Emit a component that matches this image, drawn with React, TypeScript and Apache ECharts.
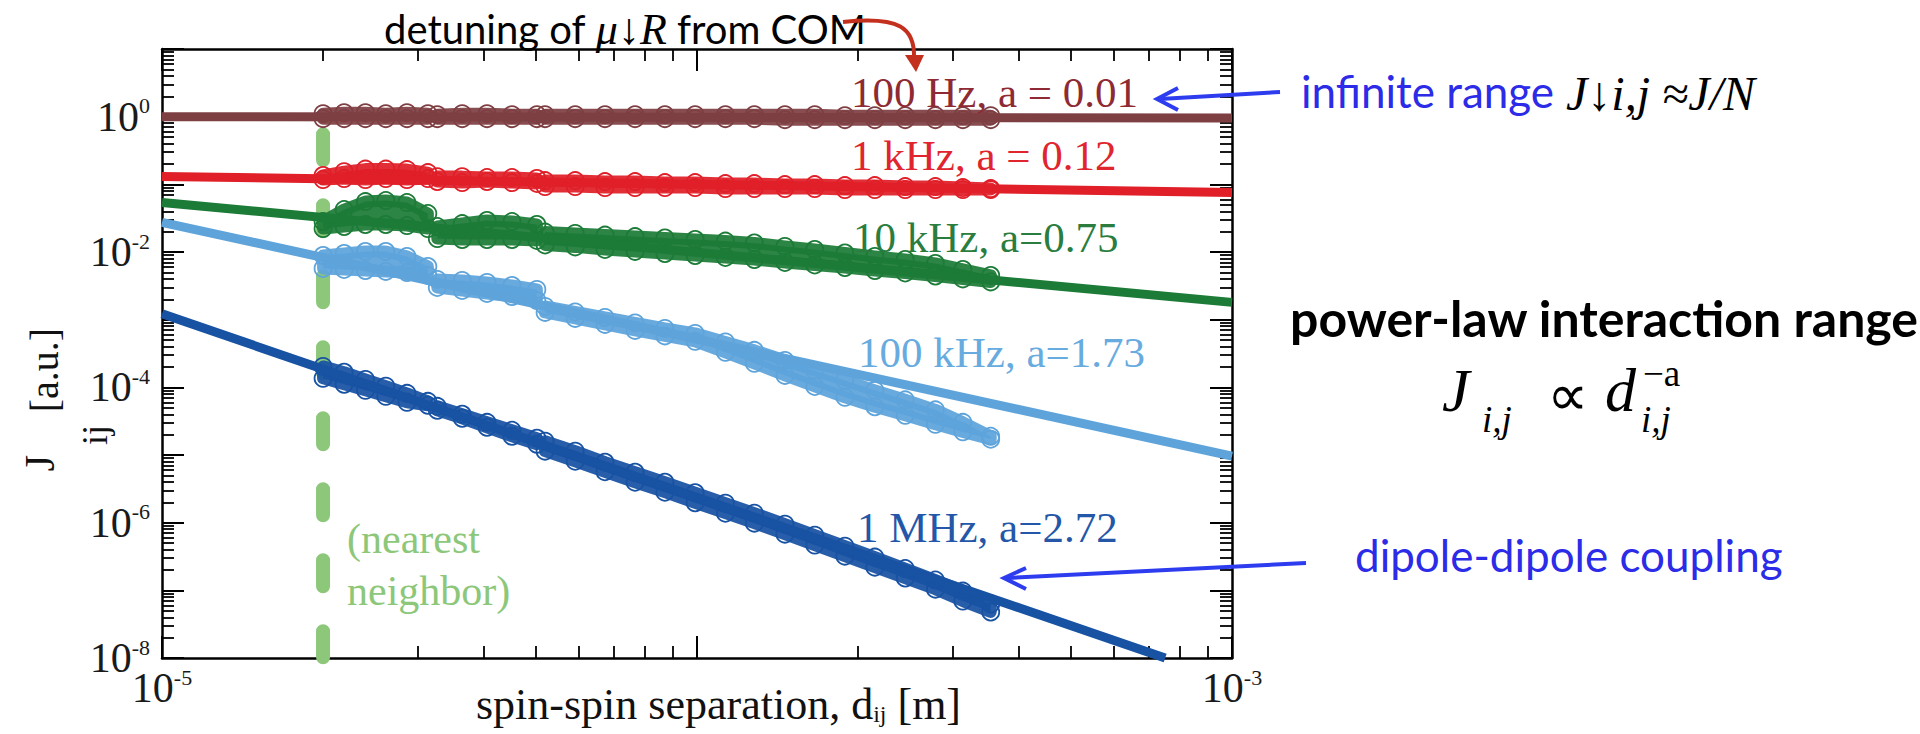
import React, { useEffect, useRef } from 'react';
import * as echarts from 'echarts';

const SERIF = '"Liberation Serif", "Times New Roman", serif';
const SANS = 'Lato, "Open Sans", sans-serif';

// axis ranges and labelled decades
const xRange = [1e-5, 1e-3];
const yRange = [1e-8, 10];
const xLabelExps = [-5, -3];
const yLabelExps = [-8, -6, -4, -2, 0];

// spin-spin separations (m) at which the coupling clouds are sampled
const sepD = [
  2.0e-5, 2.19e-5, 2.4e-5, 2.62e-5, 2.87e-5, 3.14e-5,
  3.27e-5, 3.64e-5, 4.05e-5, 4.51e-5, 5.02e-5,
  5.2e-5, 5.92e-5, 6.73e-5, 7.66e-5, 8.71e-5, 9.92e-5, 1.13e-4, 1.28e-4,
  1.46e-4, 1.66e-4, 1.89e-4, 2.15e-4, 2.45e-4, 2.79e-4, 3.14e-4, 3.54e-4,
];
const clusters = [[0, 5], [6, 10], [11, 26]];

// upper / lower edge of each cloud of J_ij points
const brownHi = [1.107, 1.146, 1.146, 1.107, 1.146, 1.107, 1.07, 1.107, 1.107, 1.07, 1.07,
  1.07, 1.07, 1.07, 1.07, 1.07, 1.07, 1.07, 1.07, 1.07, 1.07, 1.035, 1.035, 1.035, 1.035, 1.035, 1.035];
const brownLo = [0.934, 0.934, 0.934, 0.934, 0.934, 0.934, 0.934, 0.934, 0.934, 0.934, 0.934,
  0.934, 0.934, 0.934, 0.934, 0.934, 0.934, 0.934, 0.934, 0.903, 0.903, 0.903, 0.903, 0.903, 0.903, 0.903, 0.903];

const redHi = [0.135, 0.154, 0.168, 0.168, 0.165, 0.149, 0.13, 0.13, 0.126, 0.126, 0.122,
  0.1136, 0.1136, 0.1098, 0.1098, 0.1061, 0.1061, 0.1026, 0.1026, 0.0992, 0.0992, 0.0959, 0.0959, 0.0927, 0.0927, 0.0895, 0.0866];
const redLo = [0.1175, 0.1216, 0.1175, 0.1216, 0.1175, 0.1216, 0.11, 0.106, 0.11, 0.106, 0.103,
  0.0927, 0.0927, 0.0895, 0.0895, 0.0895, 0.0895, 0.0866, 0.0866, 0.0866, 0.0866, 0.0837, 0.0837, 0.0837, 0.0837, 0.0837, 0.0837];

const greenHi = [0.0282, 0.0424, 0.0556, 0.0576, 0.0538, 0.037, 0.0238, 0.0263, 0.0292, 0.0282, 0.0255,
  0.0197, 0.0188, 0.0178, 0.0169, 0.0161, 0.0153, 0.0145, 0.0136, 0.0121, 0.0109, 0.00967, 0.00859, 0.00775, 0.00677, 0.00552, 0.0045];
const greenLo = [0.0222, 0.0238, 0.0255, 0.0255, 0.0246, 0.0222, 0.0158, 0.0153, 0.0153, 0.0153, 0.0148,
  0.0127, 0.0119, 0.0109, 0.0102, 0.0095, 0.00888, 0.0083, 0.00775, 0.007, 0.00643, 0.0059, 0.00533, 0.0049, 0.00442, 0.004, 0.00361];

const lightHi = [0.00888, 0.0095, 0.01017, 0.01017, 0.00859, 0.00611, 0.00393, 0.0038, 0.00355, 0.0032, 0.0028,
  0.001569, 0.001301, 0.00108, 0.000896, 0.000743, 0.000627, 0.000469, 0.000352, 0.00025, 0.000178, 0.000127, 9.03e-5, 6.54e-5, 4.65e-5, 3.04e-5, 1.89e-5];
const lightLo = [0.00571, 0.00552, 0.00533, 0.00516, 0.00498, 0.0045, 0.00299, 0.0027, 0.00244, 0.0022, 0.00192,
  0.001279, 0.001043, 0.000851, 0.000694, 0.000576, 0.000478, 0.000329, 0.000226, 0.00015, 0.000103, 7.12e-5, 5.16e-5, 3.86e-5, 2.84e-5, 2.2e-5, 1.71e-5];

const darkHi = [2.04e-4, 1.67e-4, 1.31e-4, 1.04e-4, 8.15e-5, 6.21e-5, 5.24e-5, 4.0e-5, 3.04e-5, 2.32e-5, 1.77e-5,
  1.6e-5, 1.14e-5, 7.82e-6, 5.56e-6, 3.96e-6, 2.77e-6, 1.94e-6, 1.38e-6, 9.5e-7, 6.54e-7, 4.5e-7, 3.1e-7, 2.1e-7, 1.42e-7, 9.75e-8, 6.27e-8];
const darkLo = [1.36e-4, 1.11e-4, 9.03e-5, 7.37e-5, 6.01e-5, 5.43e-5, 4.58e-5, 3.49e-5, 2.57e-5, 1.89e-5, 1.44e-5,
  1.14e-5, 8.09e-6, 5.66e-6, 3.96e-6, 2.82e-6, 1.97e-6, 1.38e-6, 9.83e-7, 6.77e-7, 4.66e-7, 3.2e-7, 2.2e-7, 1.52e-7, 1.04e-7, 6.94e-8, 4.78e-8];

// power-law fits J ∝ d^-a (end points)
const fitD = [1e-5, 1e-3];
const brownFit = [1.0, 0.955];
const redFit = [0.131, 0.076];
const greenFit = [0.054, 0.0018];
const lightFit = [0.0275, 9.6e-6];
const darkFitD = [1e-5, 7.5e-4];
const darkFit = [1.22e-3, 1e-8];

// nearest-neighbour marker
const nnD = [2e-5, 2e-5];
const nnJ = [0.55, 1e-8];

const seriesLabels = ['100 Hz, a = 0.01', '1 kHz, a = 0.12', '10 kHz, a=0.75', '100 kHz, a=1.73', '1 MHz, a=2.72'];

const GROUPS = [
  { name: seriesLabels[0], color: '#7E3F43', text: '#8E2A33', hi: brownHi, lo: brownLo, fd: fitD, fj: brownFit },
  { name: seriesLabels[1], color: '#E01F28', text: '#E0252E', hi: redHi, lo: redLo, fd: fitD, fj: redFit },
  { name: seriesLabels[2], color: '#1C7B37', text: '#2A7D3E', hi: greenHi, lo: greenLo, fd: fitD, fj: greenFit },
  { name: seriesLabels[3], color: '#5EA4DB', text: '#68ABDF', hi: lightHi, lo: lightLo, fd: fitD, fj: lightFit },
  { name: seriesLabels[4], color: '#1852A3', text: '#2457A8', hi: darkHi, lo: darkLo, fd: darkFitD, fj: darkFit },
];
const labelPos = [[851, 92], [851, 155], [853, 237], [858, 352], [857, 527]];

const labelRich = {
  b: { fontFamily: SERIF, fontSize: 42, lineHeight: 44, color: '#1a1a1a' },
  s: { fontFamily: SERIF, fontSize: 22, lineHeight: 16, verticalAlign: 'top', color: '#1a1a1a' },
};

const expFormatter = (exps: number[]) => (v: number) => {
  const e = Math.round(Math.log10(v));
  return exps.indexOf(e) >= 0 ? `{b|10}{s|${e}}` : '';
};

const axisCommon = {
  axisLine: { show: true, onZero: false, lineStyle: { color: '#000', width: 2.5 } },
  axisTick: { show: true, inside: true, length: 22, lineStyle: { color: '#000', width: 2 } },
  minorTick: { show: true, splitNumber: 9, length: 12, lineStyle: { color: '#000', width: 1.8 } },
  splitLine: { show: false },
  minorSplitLine: { show: false },
};

function txt(x: number, y: number, text: string, size: number, family: string, fill: string, opts: any = {}) {
  return {
    type: 'text', x, y, z: 100, silent: true, rotation: opts.rotation || 0,
    style: {
      text, fill, fontSize: size, fontFamily: family,
      fontStyle: opts.italic ? 'italic' : 'normal', fontWeight: opts.bold ? 'bold' : 'normal',
      align: opts.align || 'left', textAlign: opts.align || 'left',
      verticalAlign: 'middle', textVerticalAlign: 'middle',
    },
  };
}

export default function App() {
  const ref = useRef<HTMLDivElement>(null);
  useEffect(() => {
    if (!ref.current) return;
    const chart = echarts.init(ref.current, null, { renderer: 'svg' });

    const series: any[] = [];
    series.push({
      type: 'line', data: nnD.map((d, i) => [d, nnJ[i]]), symbol: 'none', z: 1, silent: true,
      lineStyle: { color: '#8CC77A', width: 14, type: [26, 45], cap: 'round' },
    });
    GROUPS.forEach((g) => {
      series.push({
        type: 'custom', coordinateSystem: 'cartesian2d', silent: true, z: 2,
        data: [[sepD[0], g.hi[0]]],
        renderItem: (_p: any, api: any) => ({
          type: 'group',
          children: clusters.map(([s, e]) => {
            const pts: number[][] = [];
            for (let i = s; i <= e; i++) pts.push(api.coord([sepD[i], g.hi[i]]));
            for (let i = e; i >= s; i--) pts.push(api.coord([sepD[i], g.lo[i]]));
            return {
              type: 'polygon', shape: { points: pts },
              style: { fill: g.color, stroke: g.color, lineWidth: 12, lineJoin: 'round', opacity: 0.93 },
            };
          }),
        }),
      });
      series.push({
        type: 'scatter', silent: true, z: 3, symbol: 'circle', symbolSize: 17,
        data: sepD.map((d, i) => [d, g.hi[i]]).concat(sepD.map((d, i) => [d, g.lo[i]])),
        itemStyle: { color: 'rgba(255,255,255,0)', borderColor: g.color, borderWidth: 1.8, opacity: 1 },
      });
    });
    GROUPS.forEach((g) => {
      series.push({
        type: 'line', silent: true, z: 4, symbol: 'none',
        data: g.fd.map((d, i) => [d, g.fj[i]]),
        lineStyle: { color: g.color, width: 9 },
      });
    });

    const graphics: any[] = [];
    GROUPS.forEach((g, i) => graphics.push(txt(labelPos[i][0], labelPos[i][1], g.name, 43, SERIF, g.text)));
    graphics.push(txt(347, 539, '(nearest', 42, SERIF, '#8CC77A'));
    graphics.push(txt(347, 591, 'neighbor)', 42, SERIF, '#8CC77A'));

    // top annotation
    graphics.push({
      type: 'text', x: 384, y: 29, z: 100, silent: true,
      style: {
        text: '{a|detuning of }{m|μ↓R}{a| from COM}',
        verticalAlign: 'middle', textVerticalAlign: 'middle',
        rich: {
          a: { fontFamily: SANS, fontSize: 40, fill: '#000', color: '#000' },
          m: { fontFamily: SERIF, fontStyle: 'italic', fontSize: 44, fill: '#000', color: '#000' },
        },
      },
    });
    graphics.push({ type: 'bezierCurve', z: 100, silent: true,
      shape: { x1: 843, y1: 22, cpx1: 900, cpy1: 16, cpx2: 915, cpy2: 28, x2: 914, y2: 58 },
      style: { stroke: '#C4301E', lineWidth: 4, fill: null } });
    graphics.push({ type: 'polygon', z: 100, silent: true,
      shape: { points: [[905, 55], [924, 55], [916, 72]] }, style: { fill: '#C4301E' } });

    // right annotations
    graphics.push({ type: 'line', z: 100, silent: true, shape: { x1: 1280, y1: 92, x2: 1160, y2: 99 }, style: { stroke: '#2E3CF0', lineWidth: 4 } });
    graphics.push({ type: 'polyline', z: 100, silent: true, shape: { points: [[1178, 88], [1157, 99], [1178, 110]] }, style: { stroke: '#2E3CF0', lineWidth: 4, fill: null } });
    graphics.push(txt(1301, 91, 'infinite range', 44, SANS, '#2B2BE8'));
    graphics.push(txt(1566, 93, 'J↓i,j ≈J/N', 48, SERIF, '#000', { italic: true }));

    graphics.push(txt(1918, 318, 'power-law interaction range', 50, SANS, '#000', { bold: true, align: 'right' }));
    graphics.push(txt(1442, 390, 'J', 62, SERIF, '#000', { italic: true }));
    graphics.push(txt(1482, 419, 'i,j', 37, SERIF, '#000', { italic: true }));
    graphics.push(txt(1547, 395, '∝', 58, SERIF, '#000'));
    graphics.push(txt(1605, 390, 'd', 62, SERIF, '#000', { italic: true }));
    graphics.push(txt(1643, 373, '−a', 37, SERIF, '#000'));
    graphics.push(txt(1641, 419, 'i,j', 37, SERIF, '#000', { italic: true }));

    graphics.push({ type: 'line', z: 100, silent: true, shape: { x1: 1306, y1: 563, x2: 1008, y2: 578 }, style: { stroke: '#2E3CF0', lineWidth: 4 } });
    graphics.push({ type: 'polyline', z: 100, silent: true, shape: { points: [[1026, 568], [1004, 578], [1026, 589]] }, style: { stroke: '#2E3CF0', lineWidth: 4, fill: null } });
    graphics.push(txt(1355, 555, 'dipole-dipole coupling', 44, SANS, '#2B2BE8'));

    // axis titles
    graphics.push({
      type: 'text', x: 476, y: 704, z: 100, silent: true,
      style: {
        text: '{a|spin-spin separation, d}{b|ij}{a| [m]}',
        verticalAlign: 'middle', textVerticalAlign: 'middle',
        rich: {
          a: { fontFamily: SERIF, fontSize: 44, lineHeight: 44, fill: '#111', color: '#111' },
          b: { fontFamily: SERIF, fontSize: 24, lineHeight: 6, verticalAlign: 'bottom', fill: '#111', color: '#111' },
        },
      },
    });
    graphics.push(txt(40, 463, 'J', 42, SERIF, '#111', { rotation: Math.PI / 2, align: 'center' }));
    graphics.push(txt(95, 435, 'ij', 36, SERIF, '#111', { rotation: Math.PI / 2, align: 'center' }));
    graphics.push(txt(44, 370, '[a.u.]', 40, SERIF, '#111', { rotation: Math.PI / 2, align: 'center' }));

    chart.setOption({
      animation: false,
      backgroundColor: '#fff',
      grid: { left: 162, right: 688, top: 49, bottom: 76, containLabel: false },
      xAxis: [
        { type: 'log', logBase: 10, min: xRange[0], max: xRange[1], position: 'bottom', ...axisCommon,
          axisLabel: { show: true, margin: 8, formatter: expFormatter(xLabelExps), rich: labelRich } },
        { type: 'log', logBase: 10, min: xRange[0], max: xRange[1], position: 'top', ...axisCommon,
          axisLabel: { show: false } },
      ],
      yAxis: [
        { type: 'log', logBase: 10, min: yRange[0], max: yRange[1], position: 'left', ...axisCommon,
          axisLabel: { show: true, margin: 12, formatter: expFormatter(yLabelExps), rich: labelRich } },
        { type: 'log', logBase: 10, min: yRange[0], max: yRange[1], position: 'right', ...axisCommon,
          axisLabel: { show: false } },
      ],
      series,
      graphic: { elements: graphics },
    });
    return () => chart.dispose();
  }, []);
  return <div ref={ref} style={{ position: 'fixed', left: 0, top: 0, width: 1920, height: 734, background: '#fff' }} />;
}
